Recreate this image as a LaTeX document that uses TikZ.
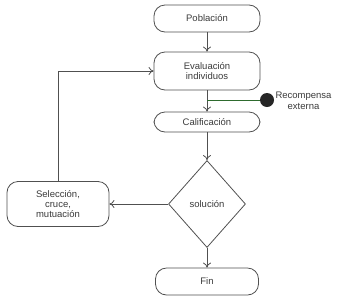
\documentclass[tikz,border=0pt]{standalone}
\usepackage{fontspec}
\setmainfont{Liberation Sans}
\usetikzlibrary{shapes.geometric,arrows.meta}
\definecolor{ln}{HTML}{505050}
\definecolor{tx}{HTML}{3A3A3A}
\definecolor{gr}{HTML}{2E6B2E}
\begin{document}
\begin{tikzpicture}[x=1pt,y=-1pt,
  box/.style={draw=ln,line width=0.8pt,rounded corners=11pt,minimum width=106pt,align=center,text=tx,font=\fontsize{9.5}{10}\selectfont,inner sep=1pt},
  dia/.style={draw=ln,line width=0.8pt,diamond,minimum width=77pt,minimum height=87pt,inner sep=0pt,text=tx,font=\fontsize{9.5}{10}\selectfont},
  conn/.style={draw=ln,line width=0.8pt,-{To[length=5pt,width=8pt]}}]
\useasboundingbox (0,0) rectangle (347,303);
\node[box,minimum height=27pt] (pob) at (207,18.5) {Población};
\node[box,minimum height=38pt] (eva) at (207,71) {Evaluación\\individuos};
\node[box,minimum height=20pt] (cal) at (207,122) {Calificación};
\node[dia] (sol) at (207,204) {solución};
\node[box,minimum width=102pt,minimum height=45pt] (sel) at (58,204) {Selección,\\cruce,\\mutuación};
\node[box,minimum width=103pt,minimum height=27pt] (fin) at (207,281.5) {Fin};
\node[circle,fill=black!85,minimum size=14pt,inner sep=0pt] (dot) at (267,100) {};
\node[text=tx,font=\fontsize{9.5}{10.5}\selectfont,align=center,anchor=west] (rec) at (272,101) {Recompensa\\externa};
\coordinate (g) at (207,100);
\draw[conn] (pob) -- (eva);
\draw[conn] (eva) -- (cal);
\draw[conn] (cal) -- (sol);
\draw[conn] (sol) -- (sel);
\draw[conn] (sol) -- (fin);
\draw[conn] (sel.north) |- (eva.west);
\draw[gr,line width=0.9pt] (g) -- (dot);
\end{tikzpicture}
\end{document}
